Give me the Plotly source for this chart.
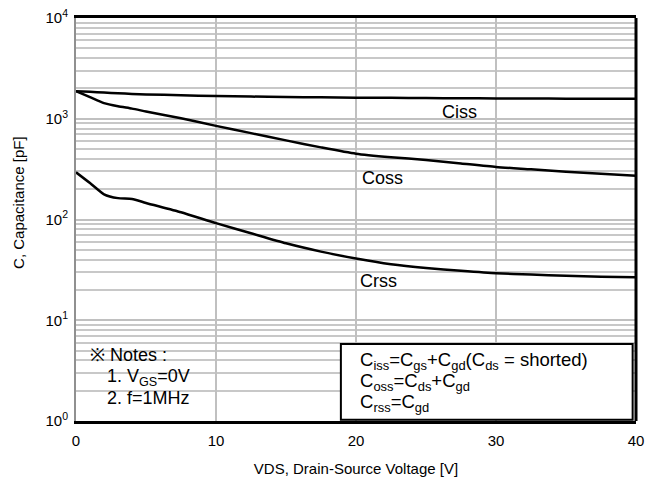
import math
import plotly.graph_objects as go

# Data (VDS in V, capacitance in pF)
vds = [0, 1, 2, 3, 4, 5, 7.5, 10, 12.5, 15, 17.5, 20, 22.5, 25, 27.5, 30, 32.5, 35, 37.5, 40]
ciss = [1880, 1850, 1820, 1790, 1765, 1745, 1710, 1680, 1660, 1645, 1632, 1620, 1612, 1605, 1598, 1592, 1587, 1582, 1578, 1575]
coss = [1880, 1640, 1430, 1330, 1260, 1180, 1010, 850, 720, 610, 520, 450, 415, 390, 360, 332, 315, 298, 285, 272]
crss = [294, 230, 178, 163, 160, 146, 118, 92, 73, 58, 48, 41, 36, 33, 31, 29.3, 28.4, 27.6, 27.1, 26.7]

x_ticks = [0, 10, 20, 30, 40]
y_tickvals = [1, 10, 100, 1000, 10000]
y_ticktext = ["10<sup>0</sup>", "10<sup>1</sup>", "10<sup>2</sup>", "10<sup>3</sup>", "10<sup>4</sup>"]

curve_labels = [("Ciss", 27.36, 1167), ("Coss", 21.86, 258), ("Crss", 21.64, 24.5)]

FONT = "Liberation Sans, Arial, sans-serif"

fig = go.Figure()
for name, ys in [("Ciss", ciss), ("Coss", coss), ("Crss", crss)]:
    fig.add_trace(go.Scatter(x=vds, y=ys, mode="lines", name=name,
                             line=dict(color="black", width=2.5, shape="spline", smoothing=0.6),
                             showlegend=False))

for txt, xv, yv in curve_labels:
    fig.add_annotation(x=xv, y=math.log10(yv), yref="y", xref="x", text=txt, showarrow=False,
                       font=dict(family=FONT, size=18, color="black"), xanchor="center", yanchor="middle")

# Notes
notes = ["※ Notes :", "1. V<sub>GS</sub>=0V", "2. f=1MHz"]
note_pos = [(0.021, 0.164), (0.052, 0.107), (0.052, 0.057)]
for t, (px, py) in zip(notes, note_pos):
    fig.add_annotation(xref="paper", yref="paper", x=px, y=py, text=t, showarrow=False,
                       xanchor="left", yanchor="middle", font=dict(family=FONT, size=18, color="black"))

# Definitions box
defs = ["C<sub>iss</sub>=C<sub>gs</sub>+C<sub>gd</sub>(C<sub>ds</sub> = shorted)",
        "C<sub>oss</sub>=C<sub>ds</sub>+C<sub>gd</sub>",
        "C<sub>rss</sub>=C<sub>gd</sub>"]
fig.add_shape(type="rect", xref="paper", yref="paper", x0=0.473, x1=0.994, y0=0.003, y1=0.191,
              line=dict(color="black", width=2), fillcolor="white", layer="above")
def_pos = [0.148, 0.097, 0.045]
for t, py in zip(defs, def_pos):
    fig.add_annotation(xref="paper", yref="paper", x=0.503, y=py, text=t, showarrow=False,
                       xanchor="left", yanchor="middle", font=dict(family=FONT, size=18.5, color="black"))

# right border (black)
fig.add_shape(type="line", xref="paper", yref="paper", x0=1, x1=1, y0=0, y1=1,
              line=dict(color="black", width=3), layer="above")

# y-axis title
fig.add_annotation(xref="paper", yref="paper", x=-0.104, y=0.543, text="C, Capacitance [pF]",
                   textangle=-90, showarrow=False, xanchor="center", yanchor="middle",
                   font=dict(family=FONT, size=15, color="black"))

fig.update_layout(
    width=653, height=489,
    margin=dict(l=76, r=17, t=18, b=68),
    paper_bgcolor="white", plot_bgcolor="white",
    font=dict(family=FONT, size=15, color="black"),
    xaxis=dict(range=[0, 40], tickvals=x_ticks, ticks="outside", ticklen=4, tickcolor="rgba(0,0,0,0)",
               showgrid=True, automargin=False,
               gridcolor="#c0c0c0", gridwidth=2, zeroline=False,
               showline=True, linecolor="black", linewidth=3, mirror=True,
               title=dict(text="VDS, Drain-Source Voltage [V]", font=dict(size=15), standoff=16),
               tickfont=dict(size=15)),
    yaxis=dict(type="log", range=[0, 4], tickvals=y_tickvals, ticktext=y_ticktext,
               ticks="outside", ticklen=3, tickcolor="rgba(0,0,0,0)", ticklabeloverflow="allow",
               showgrid=True, gridcolor="#c0c0c0", gridwidth=1.5, zeroline=False, automargin=False,
               minor=dict(showgrid=True, gridcolor="#c8c8c8", gridwidth=1.5, dtick="D1"),
               showline=True, linecolor="#909090", linewidth=2,
               tickfont=dict(size=15)),
)

fig.write_html("out.html", config={"displayModeBar": False},
               post_script="document.body.style.margin='0px';")
